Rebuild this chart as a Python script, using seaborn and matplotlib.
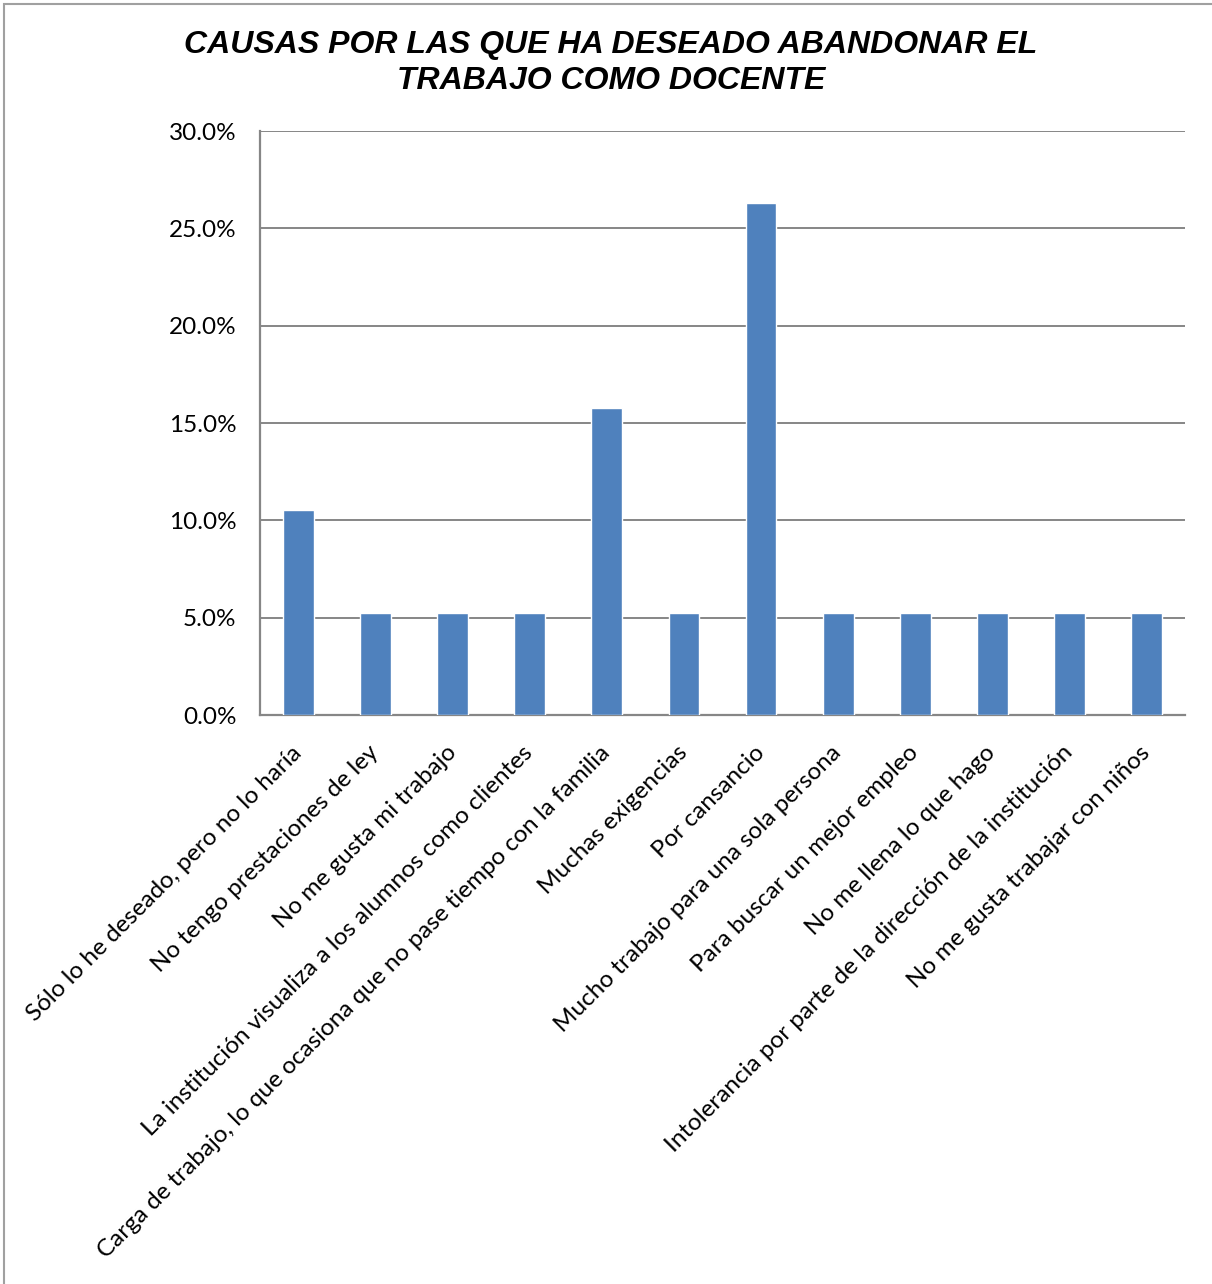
import matplotlib
matplotlib.use("Agg")
import matplotlib.pyplot as plt
from matplotlib.patches import Rectangle
from matplotlib.ticker import FuncFormatter
import seaborn as sns
import pandas as pd

causas = [
    "Sólo lo he deseado, pero no lo haría",
    "No tengo prestaciones de ley",
    "No me gusta mi trabajo",
    "La institución visualiza a los alumnos como clientes",
    "Carga de trabajo, lo que ocasiona que no pase tiempo con la familia",
    "Muchas exigencias",
    "Por cansancio",
    "Mucho trabajo para una sola persona",
    "Para buscar un mejor empleo",
    "No me llena lo que hago",
    "Intolerancia por parte de la dirección de la institución",
    "No me gusta trabajar con niños",
]
porcentajes = [10.53, 5.26, 5.26, 5.26, 15.79, 5.26, 26.32, 5.26, 5.26, 5.26, 5.26, 5.26]
yticks = [0, 5, 10, 15, 20, 25, 30]

df = pd.DataFrame({"causa": causas, "pct": porcentajes})

sns.set_theme(style="white")
plt.rcParams["font.family"] = ["Lato", "DejaVu Sans"]
plt.rcParams["text.color"] = "black"

fig = plt.figure(figsize=(12.12, 12.84), dpi=100)
ax = fig.add_axes([260 / 1212, 1 - 715 / 1284, 925 / 1212, 584 / 1284])

sns.barplot(data=df, x="causa", y="pct", color="#4F81BD", saturation=1,
            width=0.4, ax=ax, zorder=3)

grid_color = "#868686"
ax.set_ylim(0, 30)
ax.set_xlim(-0.5, len(causas) - 0.5)
ax.set_yticks(yticks)
ax.yaxis.set_major_formatter(FuncFormatter(lambda v, _: f"{v:.1f}%"))
ax.grid(axis="y", color=grid_color, linewidth=1.4, zorder=0)
ax.set_axisbelow(True)
for side in ["top", "right"]:
    ax.spines[side].set_visible(False)
for side in ["left", "bottom"]:
    ax.spines[side].set_color(grid_color)
    ax.spines[side].set_linewidth(1.6)
ax.set_xlabel("")
ax.set_ylabel("")
ax.tick_params(axis="y", labelsize=17.5, length=0, pad=17, labelcolor="black")
ax.tick_params(axis="x", labelsize=17.5, length=0, pad=10, labelcolor="black")
plt.setp(ax.get_xticklabels(), rotation=45, ha="right", va="center",
         rotation_mode="anchor")
for lbl in ax.get_xticklabels():
    lbl.set_y(-0.035)

title_kw = dict(ha="center", va="center", fontsize=23, fontweight="bold",
                fontstyle="italic", family="Liberation Sans", color="black")
fig.text(0.504, 1 - 45 / 1284, "CAUSAS POR LAS QUE HA DESEADO ABANDONAR EL", **title_kw)
fig.text(0.504, 1 - 81 / 1284, "TRABAJO COMO DOCENTE", **title_kw)

# outer chart frame
fig.patches.append(Rectangle((4 / 1212, -0.01), 1.1, 1 - 4 / 1284 + 0.01,
                             transform=fig.transFigure, fill=False,
                             edgecolor="#a0a0a0", linewidth=1.5))

fig.savefig("out.png", dpi=100, facecolor="white")
